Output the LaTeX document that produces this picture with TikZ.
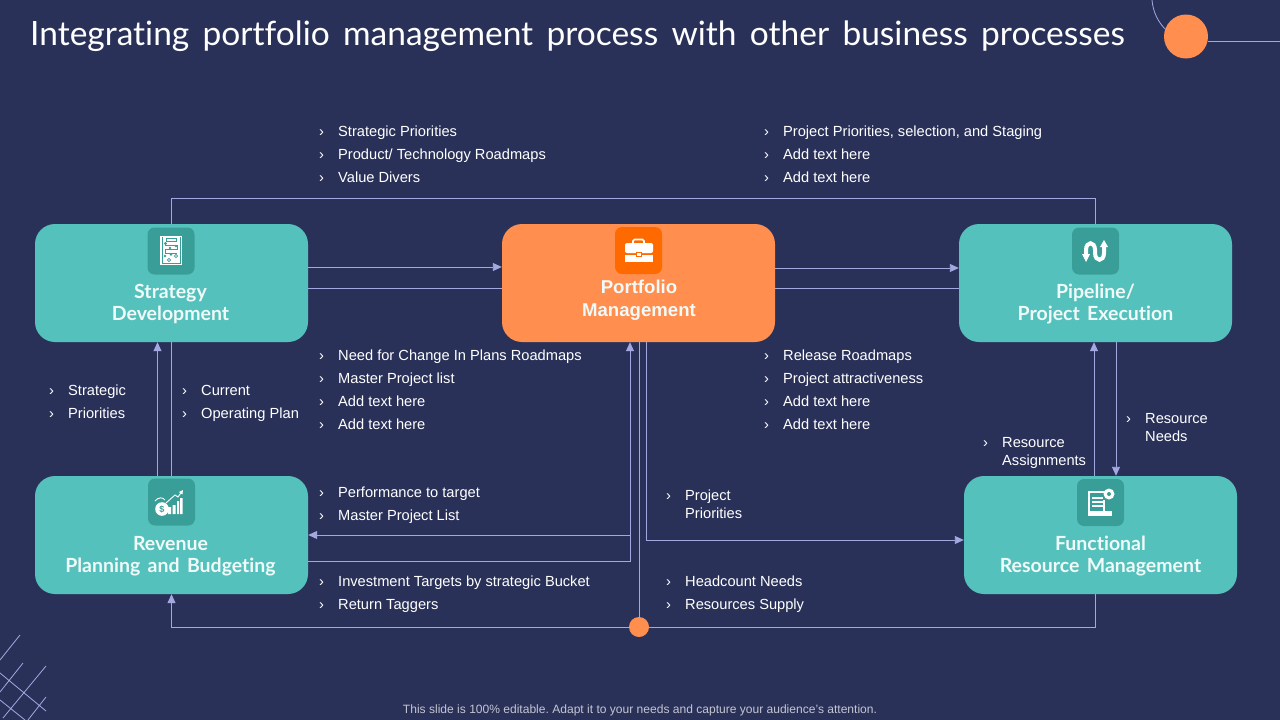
\documentclass[tikz,border=0pt]{standalone}
\usepackage{fontspec}
\setmainfont{Liberation Sans}
\newfontfamily\gill[NFSSFamily=gillf,Ligatures=NoCommon]{Lato}
\newfontfamily\gilltitle[NFSSFamily=gilltf,Ligatures=NoCommon,WordSpace=1.55]{Lato}
\usetikzlibrary{arrows.meta,backgrounds}
\definecolor{bgnavy}{HTML}{2A3159}
\definecolor{teal1}{HTML}{55C1BD}
\definecolor{teal2}{HTML}{3A9E98}
\definecolor{orange1}{HTML}{FF8E4F}
\definecolor{orange2}{HTML}{FF6A00}
\definecolor{linec}{HTML}{A3A9E0}
\definecolor{labelc}{HTML}{F0FAF8}
\newcommand{\bul}{\makebox[19pt][l]{\rule{0pt}{11pt}›}}
\newcommand{\ind}{\hspace*{19pt}}
\tikzset{
  x=1pt,y=-1pt,
  box/.style={rounded corners=20pt,minimum width=273pt,minimum height=118pt,inner sep=0pt,text=white},
  tealbox/.style={box,fill=teal1},
  orangebox/.style={box,fill=orange1},
  iconsq/.style={rounded corners=7pt,minimum width=47pt,minimum height=47pt,inner sep=0pt},
  boxlabel/.style={font=\gill\bfseries\fontsize{19.5}{22}\selectfont,text=labelc,align=center,inner sep=0pt},
  pmlabel/.style={font=\bfseries\fontsize{18.6}{23}\selectfont,text=labelc,align=center,inner sep=0pt},
  blist/.style={anchor=north west,inner sep=0pt,align=left,text=white,font=\fontsize{14.65}{23}\selectfont},
  blistb/.style={blist,font=\fontsize{14.65}{18}\selectfont},
  conn/.style={draw=linec,line width=0.9pt},
  tip/.style={-{Triangle[length=9pt,width=8pt,fill=linec]}},
  deco/.style={draw=linec,line width=0.8pt},
}
\begin{document}
\frenchspacing
\begin{tikzpicture}
\useasboundingbox (0,0) rectangle (1280,720);
% boxes
\node[tealbox] (sd) at (171.5,283) {};
\node[orangebox] (pm) at (638.5,283) {};
\node[tealbox] (pe) at (1095.5,283) {};
\node[tealbox] (rp) at (171.5,535) {};
\node[tealbox] (fr) at (1100.5,535) {};
% labels
\node[boxlabel] (sdl) at (170.5,304) {Strategy\\Development};
\node[pmlabel] (pml) at (639,300) {Portfolio\\Management};
\node[boxlabel] (pel) at (1095.5,304) {Pipeline/\\Project Execution};
\node[boxlabel] (rpl) at (170.5,556) {Revenue\\Planning and Budgeting};
\node[boxlabel] (frl) at (1100.5,556) {Functional\\Resource Management};
% icon squares
\node[iconsq,fill=teal2] (sdi) at (171,251) {};
\node[iconsq,fill=orange2] (pmi) at (638.5,250.5) {};
\node[iconsq,fill=teal2] (pei) at (1095.5,251) {};
\node[iconsq,fill=teal2] (rpi) at (171.5,502) {};
\node[iconsq,fill=teal2] (fri) at (1100.5,502.5) {};
% clipboard icon
\fill[white] (160,236) rectangle (182,265);
\draw[teal2,line width=0.7pt] (166,238)--(176,238)--(176,241)--(166,241)--cycle;
\draw[teal2,line width=0.7pt] (162,237)--(162,263.5)--(180,263.5)--(180,237);
\draw[teal2,line width=0.7pt] (165,245)--(177,245)--(177,249)--(165,249)--(165,253)--(177,253);
\fill[teal2] (165.5,243.5) circle (1.6) (176,246) circle (1.3) (170,248) circle (1.3) (165,256) circle (1.3) (171,254.5) circle (1.3);
\draw[teal2,line width=0.7pt] (176,256) circle (1.6) (169,260) circle (1.6);
% briefcase icon
\draw[white,line width=1.6pt,rounded corners=1.5pt] (633,243)--(633,239.5)--(644,239.5)--(644,243);
\fill[white,rounded corners=2pt] (625,243) rectangle (653,253);
\fill[white] (625,254.5) rectangle (653,262);
\fill[orange2] (636,252) rectangle (642,257);
\fill[white] (637,253) rectangle (641,256);
% pipe icon
\draw[white,line width=4pt,line cap=round] (1086,256)--(1086,250) .. controls (1086,241) and (1095,241) .. (1095,250)
  -- (1095,253) .. controls (1095,262) and (1104,262) .. (1104,253) -- (1104,246);
\fill[white] (1082,254)--(1090,254)--(1086,262)--cycle (1100,247)--(1108,247)--(1104,240)--cycle;
% revenue icon
\fill[white] (162,509) circle (6.8);
\node[inner sep=0pt,text=teal2,font=\bfseries\fontsize{9}{9}\selectfont] (coin) at (162,509) {\$};
\fill[white] (168,514) rectangle (171,507) (172.5,514) rectangle (175.5,505) (177,514) rectangle (179,501) (180,514) rectangle (182.5,498);
\draw[white,line width=0.9pt] (155,501) .. controls (158,497) and (163,497) .. (165,500);
\draw[white,line width=0.9pt,-{Triangle[length=4pt,width=4pt]}] (166,503)--(175,495)--(178,497)--(183,490);
% functional icon
\draw[white,line width=1.1pt] (1089,511)--(1089,492)--(1106,492);
\draw[white,line width=1.1pt] (1104,500)--(1104,511);
\fill[white] (1088,511) rectangle (1112,515.5);
\draw[white,line width=1.1pt] (1092,498)--(1103,498) (1092,502)--(1103,502) (1092,506)--(1103,506);
\fill[white] (1109,494) circle (5.5);
\fill[teal2] (1109,494) circle (2);
% top list blocks
\node[blist] (l1) at (319,125) {\bul Strategic Priorities\\\bul Product/ Technology Roadmaps\\\bul Value Divers};
\node[blist] (l2) at (764,125) {\bul Project Priorities, selection, and Staging\\\bul Add text here\\\bul Add text here};
\node[blist] (l3) at (319,349) {\bul Need for Change In Plans Roadmaps\\\bul Master Project list\\\bul Add text here\\\bul Add text here};
\node[blist] (l4) at (764,349) {\bul Release Roadmaps\\\bul Project attractiveness\\\bul Add text here\\\bul Add text here};
\node[blist] (l5) at (49,384) {\bul Strategic\\\bul Priorities};
\node[blist] (l6) at (182,384) {\bul Current\\\bul Operating Plan};
\node[blist] (l7) at (319,486) {\bul Performance to target\\\bul Master Project List};
\node[blist] (l8) at (319,575) {\bul Investment Targets by strategic Bucket\\\bul Return Taggers};
\node[blist] (l9) at (666,575) {\bul Headcount Needs\\\bul Resources Supply};
\node[blistb] (l10) at (666,489) {\bul Project\\\ind Priorities};
\node[blistb] (l11) at (1126,412) {\bul Resource\\\ind Needs};
\node[blistb] (l12) at (983,436) {\bul Resource\\\ind Assignments};
% title & footer
\node[anchor=west,inner sep=0pt,text=white,font=\gilltitle\fontsize{33.5}{40}\selectfont] (title) at (30,36.5) {Integrating portfolio management process with other business processes};
\node[inner sep=0pt,text=white!72!bgnavy,font=\fontsize{12.05}{14}\selectfont] (foot) at (640,710) {This slide is 100\% editable. Adapt it to your needs and capture your audience's attention.};
% hub dot
\node[circle,fill=orange1,minimum size=20pt,inner sep=0pt] (hub) at (639,627) {};
% decor circle
\node[circle,fill=orange1,minimum size=44pt,inner sep=0pt] (deco) at (1186,36.5) {};
\begin{scope}[on background layer]
\fill[bgnavy] (0,0) rectangle (1280,720);
\coordinate (pmb) at ([xshift=-8.5pt]pm.south);
\coordinate (pmc) at ([xshift=0.5pt]pm.south);
\coordinate (pmd) at ([xshift=7.5pt]pm.south);
\coordinate (peu) at ([xshift=-1.5pt]pe.south);
\coordinate (ped) at ([xshift=20.5pt]pe.south);
\draw[conn] (sd.north) -- ++(0,-25.5) -| (pe.north);
\draw[conn,tip] ([yshift=16pt]sd.east) -- ([yshift=16pt]pm.west);
\draw[conn] ([yshift=-5pt]sd.east) -- ([yshift=-5pt]pe.west);
\draw[conn,tip] ([yshift=15pt]pm.east) -- ([yshift=15pt]pe.west);
\draw[conn,tip] ([xshift=-14pt]rp.north) -- ([xshift=-14pt]sd.south);
\draw[conn] (rp.north) -- (sd.south);
\draw[conn,tip] (pmb |- rp.east) -- (rp.east);
\draw[conn,tip] ([yshift=-26pt]rp.east) -| (pmb);
\draw[conn] (pmc) -- (hub);
\draw[conn,tip] (pmd) |- ([yshift=-5pt]fr.west);
\draw[conn,tip] ([xshift=-5pt]fr.south) -- ++(0,33) -| (rp.south);
\draw[conn,tip] (peu |- fr.north) -- (peu);
\draw[conn,tip] (ped) -- (ped |- fr.north);
% decorative lines
\draw[deco] (deco.east |- 0,41) -- (1280,41);
\draw[deco] (1152,0) .. controls (1153,12) and (1158,22) .. (1166,30);
\draw[deco] (0,660)--(20,635) (0,692)--(23,663) (3,718)--(46,666) (28,720)--(46,697) (0,673)--(46,711) (0,700)--(25,720);
\end{scope}
\end{tikzpicture}
\end{document}
